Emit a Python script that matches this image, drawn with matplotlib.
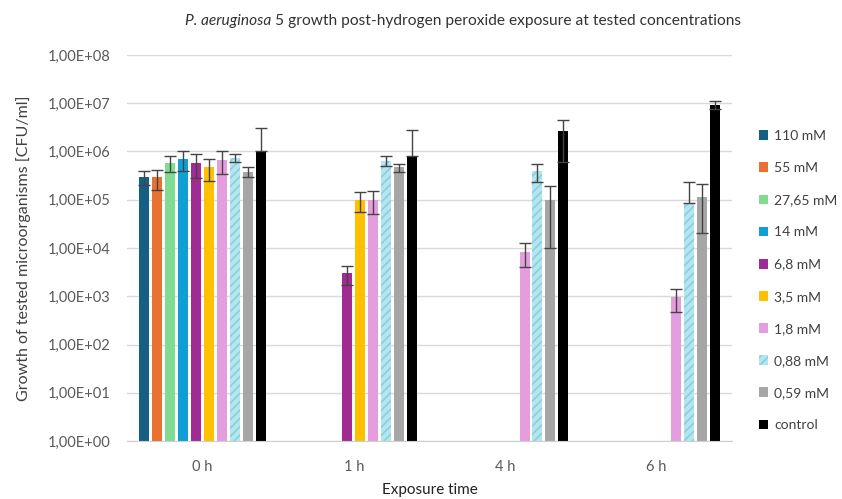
import numpy as np
import matplotlib
matplotlib.use("Agg")
import matplotlib.pyplot as plt
from matplotlib.ticker import FixedLocator, FuncFormatter

plt.rcParams['font.family'] = ['Lato', 'DejaVu Sans']
plt.rcParams['hatch.linewidth'] = 1.2

times = ['0 h', '1 h', '4 h', '6 h']
concentrations = ['110 mM', '55 mM', '27,65 mM', '14 mM', '6,8 mM',
                  '3,5 mM', '1,8 mM', '0,88 mM', '0,59 mM', 'control']
nan = np.nan

# mean CFU/ml per concentration at 0 h, 1 h, 4 h, 6 h (nan = no growth)
cfu_110 = [3.0e5, nan, nan, nan]
cfu_55 = [2.9e5, nan, nan, nan]
cfu_27 = [5.8e5, nan, nan, nan]
cfu_14 = [7.0e5, nan, nan, nan]
cfu_68 = [5.8e5, 3.0e3, nan, nan]
cfu_35 = [4.7e5, 1.0e5, nan, nan]
cfu_18 = [6.7e5, 1.0e5, 8.3e3, 9.5e2]
cfu_088 = [7.5e5, 6.5e5, 3.9e5, 8.5e4]
cfu_059 = [3.8e5, 4.7e5, 1.0e5, 1.15e5]
cfu_ctrl = [1.0e6, 8.0e5, 2.6e6, 9.3e6]

# standard deviations
sd_110 = [1.0e5, nan, nan, nan]
sd_55 = [1.3e5, nan, nan, nan]
sd_27 = [2.1e5, nan, nan, nan]
sd_14 = [3.0e5, nan, nan, nan]
sd_68 = [3.0e5, 1.3e3, nan, nan]
sd_35 = [2.2e5, 4.5e4, nan, nan]
sd_18 = [3.3e5, 5.0e4, 4.3e3, 4.7e2]
sd_088 = [1.5e5, 1.6e5, 1.6e5, 1.5e5]
sd_059 = [0.9e5, 0.9e5, 0.9e5, 0.95e5]
sd_ctrl = [2.1e6, 2.0e6, 2.0e6, 1.8e6]

values = [cfu_110, cfu_55, cfu_27, cfu_14, cfu_68, cfu_35, cfu_18, cfu_088, cfu_059, cfu_ctrl]
errors = [sd_110, sd_55, sd_27, sd_14, sd_68, sd_35, sd_18, sd_088, sd_059, sd_ctrl]
colors = ['#156082', '#E97132', '#80DC8E', '#0F9ED5', '#A02B93',
          '#FFC000', '#E59EDD', '#B3E6EF', '#A6A6A6', '#000000']

fig = plt.figure(figsize=(8.42, 4.99), dpi=100)
ax = fig.add_axes([0.1508, 0.1162, 0.7186, 0.7736])
ax.set_yscale('log')

x = np.arange(len(times))
pitch = 0.0854
width = 0.066
for i, (vals, errs, col, lab) in enumerate(zip(values, errors, colors, concentrations)):
    vals = np.array(vals)
    errs = np.array(errs)
    pos = x + (i - 4.5) * pitch
    if lab == '0,88 mM':
        ax.bar(pos, vals, width, color=col, hatch='////', edgecolor='#8ccfdc',
               linewidth=0, label=lab, zorder=2)
    else:
        ax.bar(pos, vals, width, color=col, label=lab, zorder=2)
    # lower whisker only where it stays above zero
    low = np.where(errs < vals, errs, 0)
    ax.errorbar(pos, vals, yerr=[low, errs], fmt='none', ecolor='#444444',
                elinewidth=1, capsize=4, capthick=1, zorder=3)

ax.set_ylim(1, 1e8)
ax.set_xlim(-0.5, 3.5)
ax.yaxis.set_major_locator(FixedLocator([10.0 ** k for k in range(9)]))
ax.yaxis.set_minor_locator(FixedLocator([]))
ax.yaxis.set_major_formatter(FuncFormatter(
    lambda v, p: '1,00E+%02d' % int(round(np.log10(v)))))
ax.set_xticks(x)
ax.set_xticklabels(times)
ax.tick_params(axis='both', length=0, labelsize=10.5, colors='#595959')
ax.tick_params(axis='x', pad=14)
ax.tick_params(axis='y', pad=12)
ax.grid(axis='y', color='#d9d9d9', linewidth=1, zorder=0)
ax.set_axisbelow(True)
for s in ['top', 'right', 'left']:
    ax.spines[s].set_visible(False)
ax.spines['bottom'].set_color('#d0d0d0')

ax.set_ylabel('Growth of tested microorganisms [CFU/ml]', fontsize=11.5,
              color='#404040', labelpad=12)
ax.set_xlabel('Exposure time', fontsize=11, color='#222222', labelpad=6)

# title: italic species name followed by the regular part
fig.canvas.draw()
renderer = fig.canvas.get_renderer()
t1 = fig.text(0, 0.957, 'P. aeruginosa', fontstyle='italic',
              fontsize=11.2, color='#333333', va='center')
t2 = fig.text(0, 0.957, ' 5 growth post-hydrogen peroxide exposure at tested concentrations',
              fontsize=11.2, color='#333333', va='center')
w1 = t1.get_window_extent(renderer).width
w2 = t2.get_window_extent(renderer).width
start = 463 - (w1 + w2) / 2
t1.set_x(start / fig.bbox.width)
t2.set_x((start + w1) / fig.bbox.width)

ax.legend(loc='upper left', bbox_to_anchor=(1.035, 0.82), frameon=False,
          fontsize=10, labelcolor='#404040', handlelength=0.7, handleheight=0.7,
          handletextpad=0.4, labelspacing=1.45, borderaxespad=0)

fig.savefig('out.png', dpi=100)
